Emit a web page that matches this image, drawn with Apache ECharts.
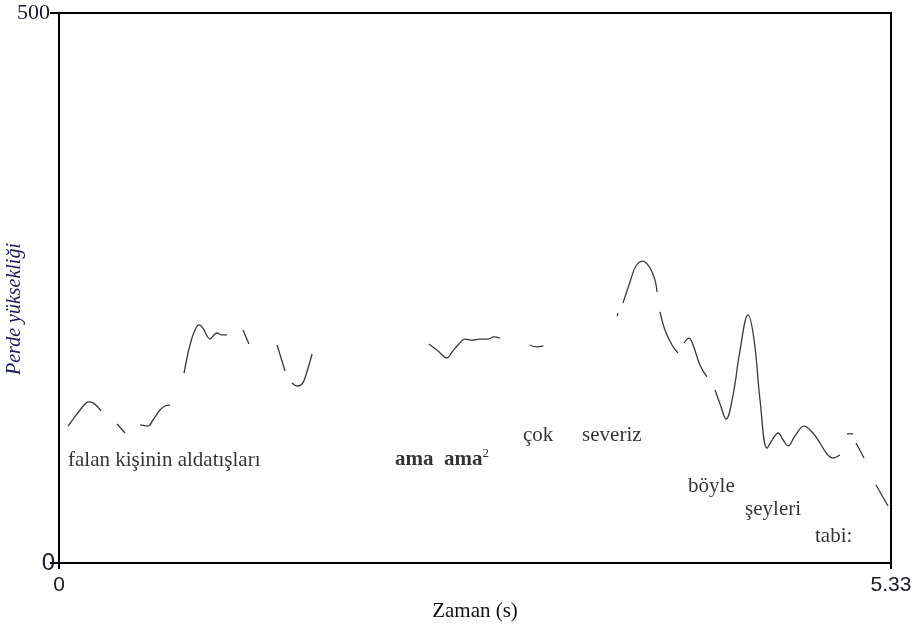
<!DOCTYPE html>
<html>
<head>
<meta charset="utf-8">
<script src="https://cdn.jsdelivr.net/npm/echarts@6/dist/echarts.min.js"></script>
<style>
  html, body { margin: 0; padding: 0; background: #fff; }
  #chart { width: 924px; height: 629px; }
</style>
</head>
<body>
<div id="chart"></div>
<script>
// perde eğrisi (F0), parça parça: [zaman (s), perde]
var seg1 = [[0.058, 124.5], [0.096, 131.8], [0.135, 139.1], [0.173, 145.5], [0.192, 146.4], [0.218, 145.5], [0.243, 142.7], [0.269, 138.2]];
var seg2 = [[0.372, 126.4], [0.423, 118.2]];
var seg3 = [[0.519, 125.5], [0.570, 124.5], [0.602, 130], [0.647, 139.1], [0.679, 142.7], [0.711, 143.6]];
var seg4 = [[0.801, 172.7], [0.839, 198.2], [0.871, 211.8], [0.897, 216.4], [0.922, 213.6], [0.948, 206.4], [0.967, 203.6], [0.987, 206.4], [1.012, 209.1], [1.044, 207.3], [1.076, 207.3]];
var seg5 = [[1.179, 211.8], [1.217, 199.1]];
var seg6 = [[1.397, 198.2], [1.448, 174.5]];
var seg7 = [[1.493, 163.6], [1.525, 160.9], [1.557, 162.7], [1.582, 170.9], [1.621, 190]];
var seg8 = [[2.370, 199.1], [2.428, 192.7], [2.486, 186.4], [2.518, 191.8], [2.556, 198.2], [2.601, 203.6], [2.646, 202.7], [2.697, 203.6], [2.748, 203.6], [2.787, 205.5], [2.825, 204.5]];
var seg9 = [[3.017, 198.2], [3.062, 196.4], [3.103, 197.3]];
var seg10 = [[3.575, 224.5], [3.581, 227.3]];
var seg11 = [[3.613, 236.4], [3.658, 255.5], [3.696, 270], [3.741, 274.5], [3.786, 268.2], [3.818, 257.3], [3.831, 246.4]];
var seg12 = [[3.850, 228.2], [3.882, 211.8], [3.927, 198.2], [3.965, 190.9]];
var seg13 = [[4.004, 200], [4.036, 204.5], [4.062, 198.2], [4.106, 180], [4.151, 169.1]];
var seg14 = [[4.203, 157.3], [4.235, 144.5], [4.273, 130.9], [4.318, 152.7], [4.363, 193.6], [4.414, 225.5], [4.453, 202.7], [4.491, 148.2], [4.536, 104.5], [4.568, 111.8], [4.607, 118.2], [4.639, 111.8], [4.671, 106.4], [4.715, 115.5], [4.773, 124.5], [4.830, 118.2], [4.875, 109.1], [4.920, 99.1], [4.958, 95.5], [5.003, 98.2]];
var seg15 = [[5.048, 117.3], [5.087, 117.3]];
var seg16 = [[5.106, 109.1], [5.157, 95.5]];
var seg17 = [[5.234, 70.9], [5.311, 51.8]];
var segments = [seg1, seg2, seg3, seg4, seg5, seg6, seg7, seg8, seg9, seg10, seg11, seg12, seg13, seg14, seg15, seg16, seg17];

// sözcükler: [zaman, perde, metin]
var words = [
    [0.058, 93.6, 'falan kişinin aldatışları'],
    [2.152, 93.6, '{b|ama  ama}{s|2}'],
    [2.972, 115.5, 'çok'],
    [3.351, 115.5, 'severiz'],
    [4.030, 70, 'böyle'],
    [4.395, 48.2, 'şeyleri'],
    [4.843, 24.5, 'tabi:']
];

var xMax = 5.33;
var yMax = 500;

var series = segments.map(function (seg) {
    return {
        type: 'line',
        data: seg,
        smooth: 0.4,
        symbol: 'none',
        silent: true,
        lineStyle: { color: '#3a3a3a', width: 1.3 }
    };
});

series.push({
    type: 'scatter',
    data: words.map(function (w) { return [w[0], w[1]]; }),
    symbolSize: 0,
    silent: true,
    label: {
        show: true,
        position: 'right',
        distance: 0,
        fontFamily: 'Liberation Serif',
        fontSize: 21,
        color: '#000',
        formatter: function (p) { return words[p.dataIndex][2]; },
        rich: {
            b: { fontFamily: 'Liberation Serif', fontSize: 21, fontWeight: 'bold', color: '#000' },
            s: { fontFamily: 'Liberation Serif', fontSize: 13, color: '#000', verticalAlign: 'top', padding: [0, 0, 12, 0] }
        }
    }
});

var myChart = echarts.init(document.getElementById('chart'));
var option = {
    animation: false,
    backgroundColor: '#fff',
    grid: {
        left: 59,
        right: 33,
        top: 13,
        bottom: 66,
        outerBoundsMode: 'none',
        containLabel: false,
        show: true,
        borderColor: '#000',
        borderWidth: 2
    },
    xAxis: {
        type: 'value',
        min: 0,
        max: xMax,
        interval: xMax,
        name: 'Zaman (s)',
        nameLocation: 'middle',
        nameGap: 38,
        nameMoveOverlap: false,
        nameTextStyle: { fontFamily: 'Liberation Serif', fontSize: 21, color: '#111' },
        splitLine: { show: false },
        axisLine: { lineStyle: { color: '#000', width: 2 } },
        axisTick: { length: 6, lineStyle: { color: '#000', width: 2 } },
        axisLabel: {
            margin: 12,
            fontFamily: 'Liberation Sans',
            fontSize: 21,
            color: '#1a1a2e',
            formatter: function (v) { return v === 0 ? '0' : v.toFixed(2); }
        }
    },
    yAxis: {
        type: 'value',
        min: 0,
        max: yMax,
        interval: yMax,
        name: 'Perde yüksekliği',
        nameLocation: 'middle',
        nameGap: 34,
        nameMoveOverlap: false,
        nameTextStyle: {
            fontFamily: 'Liberation Serif',
            fontStyle: 'italic',
            fontSize: 20,
            color: '#1c1c5a',
            padding: [0, 42, 0, 0]
        },
        splitLine: { show: false },
        axisLine: { lineStyle: { color: '#000', width: 2 } },
        axisTick: { length: 9, lineStyle: { color: '#000', width: 2 } },
        axisLabel: {
            margin: 4,
            formatter: function (v) { return v === 0 ? '{z|0}' : '{h|' + v + '}'; },
            rich: {
                z: { fontFamily: 'Liberation Sans', fontSize: 24, color: '#1a1a2e' },
                h: { fontFamily: 'Liberation Serif', fontSize: 22, color: '#1a1a2e', padding: [0, 5, 0, 0] }
            }
        }
    },
    series: series
};

myChart.setOption(option);
window.onresize = myChart.resize;
</script>
</body>
</html>
